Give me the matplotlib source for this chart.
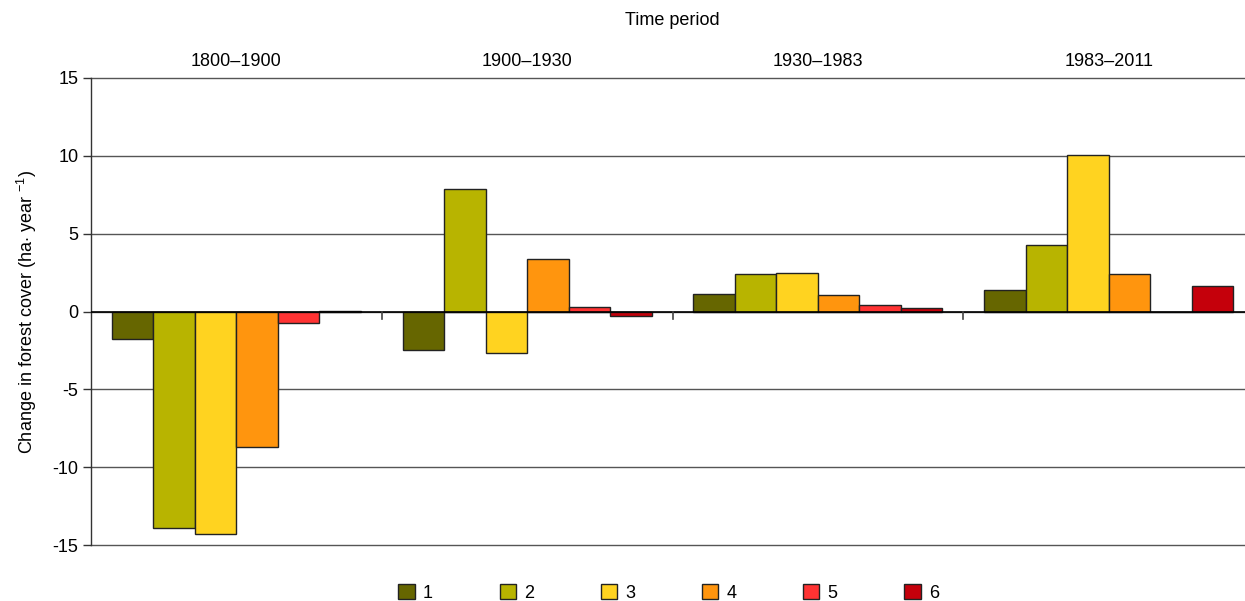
import matplotlib
matplotlib.use("Agg")
import matplotlib.pyplot as plt
import numpy as np

plt.rcParams['font.family'] = ['Liberation Sans', 'DejaVu Sans']
plt.rcParams['mathtext.fontset'] = 'custom'
plt.rcParams['mathtext.rm'] = 'Liberation Sans'
plt.rcParams['mathtext.it'] = 'Liberation Sans:italic'

periods = ["1800–1900", "1900–1930", "1930–1983", "1983–2011"]
classes = ["1", "2", "3", "4", "5", "6"]
values = {
    "1": [-1.75, -2.5, 1.14, 1.37],
    "2": [-13.9, 7.9, 2.44, 4.24],
    "3": [-14.3, -2.66, 2.49, 10.03],
    "4": [-8.7, 3.38, 1.07, 2.42],
    "5": [-0.77, 0.32, 0.39, -0.05],
    "6": [0.05, -0.32, 0.22, 1.61],
}
colors = ["#666600", "#B8B400", "#FFD320", "#FF950E", "#FF3333", "#C5000B"]
yticks = [-15, -10, -5, 0, 5, 10, 15]

W, H = 1245, 601
fig = plt.figure(figsize=(W / 100, H / 100), dpi=100)
left, right, top, bottom = 91, 1254, 78, 545
ax = fig.add_axes([left / W, 1 - bottom / H, (right - left) / W, (bottom - top) / H])

n = len(classes)
bw = 1.0 / (n + 1)
x = np.arange(len(periods))
for i, c in enumerate(classes):
    off = (i - (n - 1) / 2) * bw
    ax.bar(x + off, values[c], width=bw, color=colors[i], edgecolor="#222222",
           linewidth=1.0, label=c, zorder=3)

ax.set_xlim(-0.5, len(periods) - 0.5)
ax.set_ylim(-15, 15)
ax.set_yticks(yticks)
ax.set_yticklabels([str(t) for t in yticks], fontsize=13)
ax.yaxis.grid(True, color="#555555", linewidth=1.0, zorder=0)
ax.set_axisbelow(True)
for gl in ax.get_ygridlines():
    gl.set_clip_on(False)
ax.axhline(0, color="black", linewidth=1.2, zorder=4)

# group separator ticks on the zero line
for b in np.arange(0.5, len(periods) - 0.5, 1.0):
    ax.plot([b, b], [0, -0.45], color="#444444", linewidth=1.2, zorder=4, clip_on=False)

for s in ["top", "right", "bottom"]:
    ax.spines[s].set_visible(False)
ax.spines["left"].set_color("#333333")
ax.spines["left"].set_linewidth(1.0)
ax.tick_params(axis="y", length=6, width=1, color="#333333", pad=3)

ax.xaxis.tick_top()
ax.set_xticks(x)
ax.set_xticklabels(periods, fontsize=13)
ax.tick_params(axis="x", length=0, pad=6)
ax.xaxis.set_label_position("top")
ax.set_xlabel("Time period", fontsize=13, labelpad=20)

ax.set_ylabel(r"Change in forest cover (ha$\cdot$ year $^{-1}$)", fontsize=13, labelpad=10)

fig.legend(loc="center", bbox_to_anchor=(0.537, 1 - 593 / H), ncol=6, frameon=False,
           fontsize=13, handlelength=0.9, handleheight=0.9, handletextpad=0.45,
           columnspacing=3.7, borderaxespad=0)

fig.savefig("out.png", dpi=100)
